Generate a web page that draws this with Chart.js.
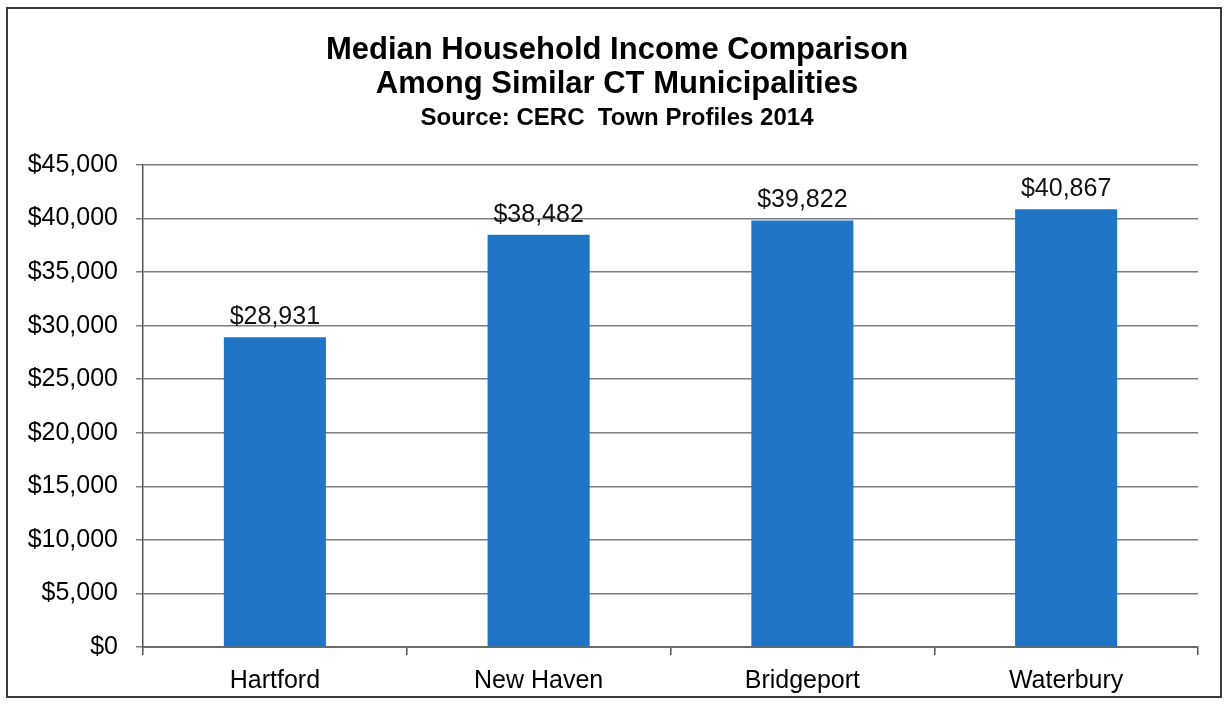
<!DOCTYPE html>
<html>
<head>
<meta charset="utf-8">
<script src="https://cdn.jsdelivr.net/npm/chart.js@4"></script>
<style>
  html, body { margin: 0; padding: 0; background: #fff; }
  #wrap { width: 1225px; height: 707px; position: relative; }
</style>
</head>
<body>
<div id="wrap"><canvas id="c" width="1225" height="707"></canvas></div>
<script>
const categories = ["Hartford", "New Haven", "Bridgeport", "Waterbury"];
const incomeValues = [28931, 38482, 39822, 40867];
const yTicks = [0, 5000, 10000, 15000, 20000, 25000, 30000, 35000, 40000, 45000];
const titleLines = ["Median Household Income Comparison", "Among Similar CT Municipalities"];
const subtitleText = "Source: CERC  Town Profiles 2014";

function money(v) {
  return "$" + String(Math.round(v)).replace(/\B(?=(\d{3})+(?!\d))/g, ",");
}

const FONT = "'Liberation Sans', Arial, sans-serif";

const frame = {
  id: "frame",
  beforeDraw(chart) {
    const ctx = chart.ctx;
    ctx.save();
    ctx.fillStyle = "#fff";
    ctx.fillRect(0, 0, chart.width, chart.height);
    ctx.strokeStyle = "#3a3a3a";
    ctx.lineWidth = 2;
    ctx.strokeRect(7, 8, 1214, 689);
    ctx.restore();
  }
};

const valueLabels = {
  id: "valueLabels",
  afterDatasetsDraw(chart) {
    const ctx = chart.ctx;
    const meta = chart.getDatasetMeta(0);
    ctx.save();
    ctx.font = "25px " + FONT;
    ctx.fillStyle = "#111";
    ctx.textAlign = "center";
    ctx.textBaseline = "alphabetic";
    meta.data.forEach((bar, i) => {
      ctx.fillText(money(chart.data.datasets[0].data[i]), bar.x, bar.y - 13);
    });
    ctx.restore();
  }
};

new Chart(document.getElementById("c"), {
  type: "bar",
  data: {
    labels: categories,
    datasets: [{
      data: incomeValues,
      backgroundColor: "#1f74c6",
      borderWidth: 0,
      barPercentage: 0.387,
      categoryPercentage: 1,
      yAxisID: "y"
    }]
  },
  options: {
    responsive: false,
    animation: false,
    layout: { padding: { left: 20, right: 11, top: 0, bottom: 0 } },
    plugins: {
      legend: { display: false },
      tooltip: { enabled: false },
      title: {
        display: true,
        text: titleLines,
        color: "#000",
        font: { family: FONT, size: 31, weight: "bold", lineHeight: 1.097 },
        padding: { top: 33, bottom: 0 }
      },
      subtitle: {
        display: true,
        text: subtitleText,
        color: "#000",
        font: { family: FONT, size: 24, weight: "bold", lineHeight: 1.2 },
        padding: { top: 2.6, bottom: 32.6 }
      }
    },
    scales: {
      x: {
        afterFit(s) { s.height = 60; },
        grid: { display: true, drawOnChartArea: false, offset: true, tickLength: 8, color: "#555", lineWidth: 1.5 },
        border: { display: true, color: "#6a6a6a", width: 2 },
        ticks: { color: "#000", font: { family: FONT, size: 25 }, padding: 11 }
      },
      y: {
        position: "left",
        min: 0,
        max: 45000,
        afterFit(s) { s.width = 123; },
        afterBuildTicks(s) { s.ticks = yTicks.map(v => ({ value: v })); },
        grid: { color: "#7f7f7f", lineWidth: 1.5, tickLength: 7 },
        border: { display: true, color: "#555", width: 1.5 },
        ticks: { color: "#000", font: { family: FONT, size: 25 }, padding: 18, callback: v => money(v) }
      },
      yRightSpacer: {
        type: "linear",
        position: "right",
        min: 0,
        max: 45000,
        afterFit(s) { s.width = 16; },
        grid: { display: false },
        border: { display: false },
        ticks: { display: false }
      }
    }
  },
  plugins: [frame, valueLabels]
});
</script>
</body>
</html>
